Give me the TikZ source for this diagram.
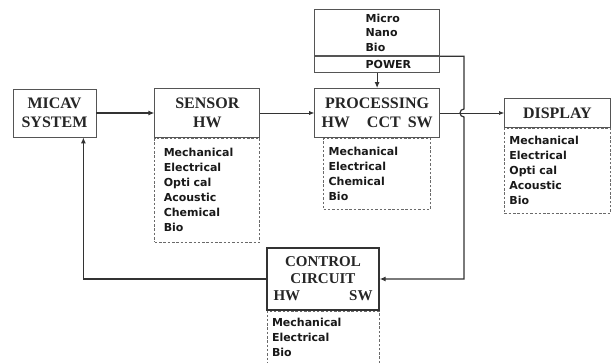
\documentclass[tikz,border=0pt]{standalone}
\usepackage{fontspec}
\setmainfont{Liberation Serif}
\newfontfamily\listfont{DejaVu Sans}
\usepackage{tikz}
\usetikzlibrary{arrows.meta,positioning,calc}
\definecolor{linegray}{HTML}{333333}
\definecolor{boxgray}{HTML}{555555}
\definecolor{dashgray}{HTML}{6A6A6A}
\tikzset{
  titlebox/.style={draw=boxgray, line width=0.8pt, align=center, inner sep=2pt, text=black!85, font=\bfseries\fontsize{16}{19}\selectfont},
  listbox/.style={draw=dashgray, dash pattern=on 2.5pt off 1.8pt, line width=0.7pt, align=left, inner xsep=5pt, inner ysep=0pt, text=black!90, font=\listfont\bfseries\fontsize{11}{15}\selectfont},
  powerbox/.style={draw=boxgray, line width=0.8pt, align=left, inner xsep=0pt, inner ysep=0pt, text width=125pt, text=black!90, font=\listfont\bfseries\fontsize{11}{14.5}\selectfont, execute at begin node={\leftskip=51pt}},
  arrow/.style={-{Latex[length=6pt,width=5pt]}, line width=1.2pt, draw=linegray},
  thinarrow/.style={-{Latex[length=5pt,width=4pt]}, line width=0.6pt, draw=linegray}
}

\begin{document}
\begin{tikzpicture}[x=1pt, y=1pt]
\useasboundingbox (0,0) rectangle (613,-363);
\fill[white] (0,0) rectangle (613,-363);
\node[titlebox, minimum width=83pt, minimum height=48pt] (micav) at (54.5,-113) {MICAV\\SYSTEM};
\node[titlebox, right=58pt of micav, minimum width=105pt, minimum height=49pt] (sensor) {SENSOR\\HW};
\node[listbox, below=0pt of sensor, inner xsep=9pt, text width=87pt, minimum height=104pt] (sensorlist) {Mechanical\\Electrical\\Opti cal\\Acoustic\\Chemical\\Bio};
\node[titlebox, right=54pt of sensor, minimum width=125pt, minimum height=49pt] (processing) {PROCESSING\\HW\hspace{17pt}CCT\hspace{7pt}SW};
\node[listbox, below=0pt of processing, text width=97pt, minimum height=71pt] (proclist) {Mechanical\\Electrical\\Chemical\\Bio};
\node[powerbox, above=15pt of processing, minimum height=16pt] (power) {POWER};
\node[powerbox, above=0pt of power, minimum height=46pt] (powerlist) {Micro\\Nano\\Bio};
\node[titlebox, right=64pt of processing, minimum width=106pt, minimum height=29pt] (display) {DISPLAY};
\node[listbox, below=0pt of display, text width=96pt, minimum height=85pt] (displaylist) {Mechanical\\Electrical\\Opti cal\\Acoustic\\Bio};
\node[titlebox, draw=linegray, line width=1.4pt, minimum width=112pt, minimum height=62pt, font=\bfseries\fontsize{15}{17}\selectfont] (control) at (323,-279) {CONTROL\\CIRCUIT\\\makebox[99pt]{HW\hfill SW}};
\node[listbox, below=0pt of control, text width=102pt, minimum height=52pt] (controllist) {Mechanical\\Electrical\\Bio};
% signal path
\draw[arrow] (micav) -- (sensor);
\draw[thinarrow] (sensor) -- (processing);
\draw[arrow] (power) -- (processing);
\draw[thinarrow] (processing) -- (display);
% power bus to the control circuit, hopping over the display line
\coordinate (bus) at ($(processing.east)+(24pt,0)$);
\draw[arrow] (powerlist.south east) -- (powerlist.south east -| bus) -- ($(bus)+(0,4pt)$) arc[start angle=90, end angle=270, radius=4pt] -- (bus |- control.east) -- (control.east);
% feedback
\draw[arrow] (control.west) -| ($(micav.south east)+(-13pt,0)$);
\end{tikzpicture}
\end{document}
